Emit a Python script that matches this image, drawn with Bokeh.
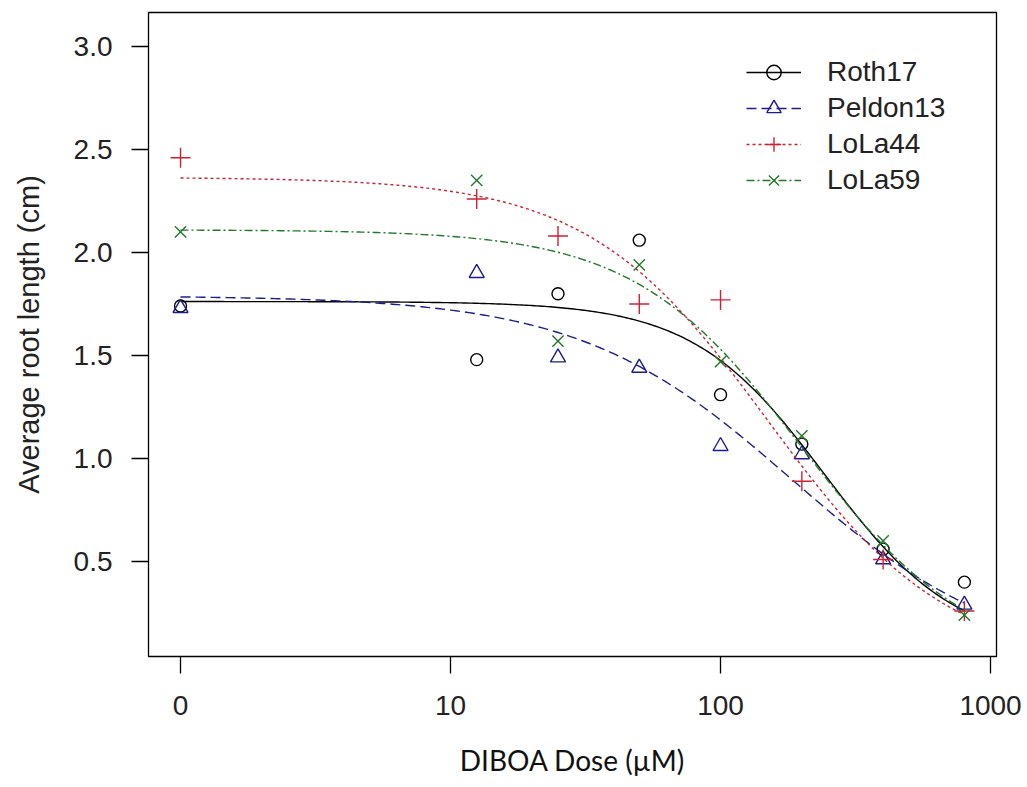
import numpy as np
from bokeh.plotting import figure
from bokeh.models import Range1d, FixedTicker, Legend, LegendItem, NumeralTickFormatter
from bokeh.embed import file_html
from bokeh.resources import INLINE

# ---- data ----
doses = [0, 12.5, 25, 50, 100, 200, 400, 800]
series_names = ["Roth17", "Peldon13", "LoLa44", "LoLa59"]
roth17 = [1.74, 1.48, 1.80, 2.06, 1.31, 1.07, 0.56, 0.40]
peldon13 = [1.73, 1.90, 1.49, 1.44, 1.06, 1.02, 0.51, 0.29]
lola44 = [2.46, 2.26, 2.08, 1.75, 1.77, 0.89, 0.51, 0.26]
lola59 = [2.10, 2.35, 1.57, 1.94, 1.47, 1.11, 0.60, 0.24]

# fitted four-parameter log-logistic curves (b, c, d, e)
fit_b = [1.78, 1.10, 1.30, 1.40]
fit_c = [0.08, 0.00, 0.00, 0.00]
fit_d = [1.762, 1.79, 2.365, 2.11]
fit_e = [243.5, 185.0, 150.0, 200.0]

zero_position = 1.0          # dose 0 is drawn at this position of the log axis
x_tick_values = [1, 10, 100, 1000]
x_tick_labels = ["0", "10", "100", "1000"]
y_tick_values = [0.5, 1.0, 1.5, 2.0, 2.5, 3.0]

# ---- styles ----
colors = ["#000000", "#1c1c8c", "#cc2233", "#23782a"]
dashes = ["solid", "10 5", "3 3", "8 3 2 3"]
markers = ["circle", "triangle", "cross", "x"]
msizes = [12, 15, 20, 16]

p = figure(width=1027, height=787, x_axis_type="log",
           x_range=Range1d(0.761, 1052), y_range=Range1d(0.039, 3.165),
           output_backend="svg", toolbar_location=None,
           min_border_left=148, min_border_right=31, min_border_top=12,
           min_border_bottom=131)
p.background_fill_color = "white"
p.border_fill_color = "white"
p.xgrid.visible = False
p.ygrid.visible = False
p.outline_line_color = "black"
p.outline_line_width = 1.3

ys_all = [roth17, peldon13, lola44, lola59]
xs = [zero_position if d == 0 else d for d in doses]
grid = np.logspace(np.log10(zero_position), np.log10(max(doses)), 300)

items = []
for i, name in enumerate(series_names):
    b, c, d, e = fit_b[i], fit_c[i], fit_d[i], fit_e[i]
    curve = c + (d - c) / (1 + np.exp(b * (np.log(grid) - np.log(e))))
    lr = p.line(grid, curve, line_color=colors[i], line_dash=dashes[i], line_width=1.4)
    sr = p.scatter(xs, ys_all[i], marker=markers[i], size=msizes[i],
                   line_color=colors[i], fill_color=None, line_width=1.4)
    items.append(LegendItem(label=name, renderers=[lr, sr]))

legend = Legend(items=items, location=(598, 458), glyph_width=55, glyph_height=36,
                label_height=36, label_standoff=26, spacing=0, padding=0, margin=0,
                border_line_alpha=0, background_fill_alpha=0,
                label_text_font="Liberation Sans", label_text_font_size="28px",
                label_text_color="#222222")
p.add_layout(legend)

# axes
p.xaxis.ticker = FixedTicker(ticks=x_tick_values)
p.xaxis.major_label_overrides = {v: l for v, l in zip(x_tick_values, x_tick_labels)}
p.yaxis.ticker = FixedTicker(ticks=y_tick_values)
p.yaxis.formatter = NumeralTickFormatter(format="0.0")
for ax in (p.xaxis, p.yaxis):
    ax.axis_line_color = None
    ax.major_tick_in = 0
    ax.major_tick_out = 17
    ax.minor_tick_in = 0
    ax.minor_tick_out = 0
    ax.major_tick_line_color = "black"
    ax.major_tick_line_width = 1.3
    ax.major_label_text_font = "Liberation Sans"
    ax.major_label_text_font_size = "28px"
    ax.major_label_text_color = "#222222"

p.xaxis.major_label_standoff = 22
p.yaxis.major_label_standoff = 19
p.xaxis.axis_label = "DIBOA Dose (µM)"
p.xaxis.axis_label_text_font = "Lato"
p.xaxis.axis_label_text_font_style = "normal"
p.xaxis.axis_label_text_font_size = "28px"
p.xaxis.axis_label_text_color = "#111111"
p.xaxis.axis_label_standoff = 25
p.yaxis.axis_label = "Average root length (cm)"
p.yaxis.axis_label_text_font = "Liberation Sans"
p.yaxis.axis_label_text_font_style = "normal"
p.yaxis.axis_label_text_font_size = "29px"
p.yaxis.axis_label_text_color = "#222222"
p.yaxis.axis_label_standoff = 26

open("out.html", "w").write(file_html(p, INLINE))
